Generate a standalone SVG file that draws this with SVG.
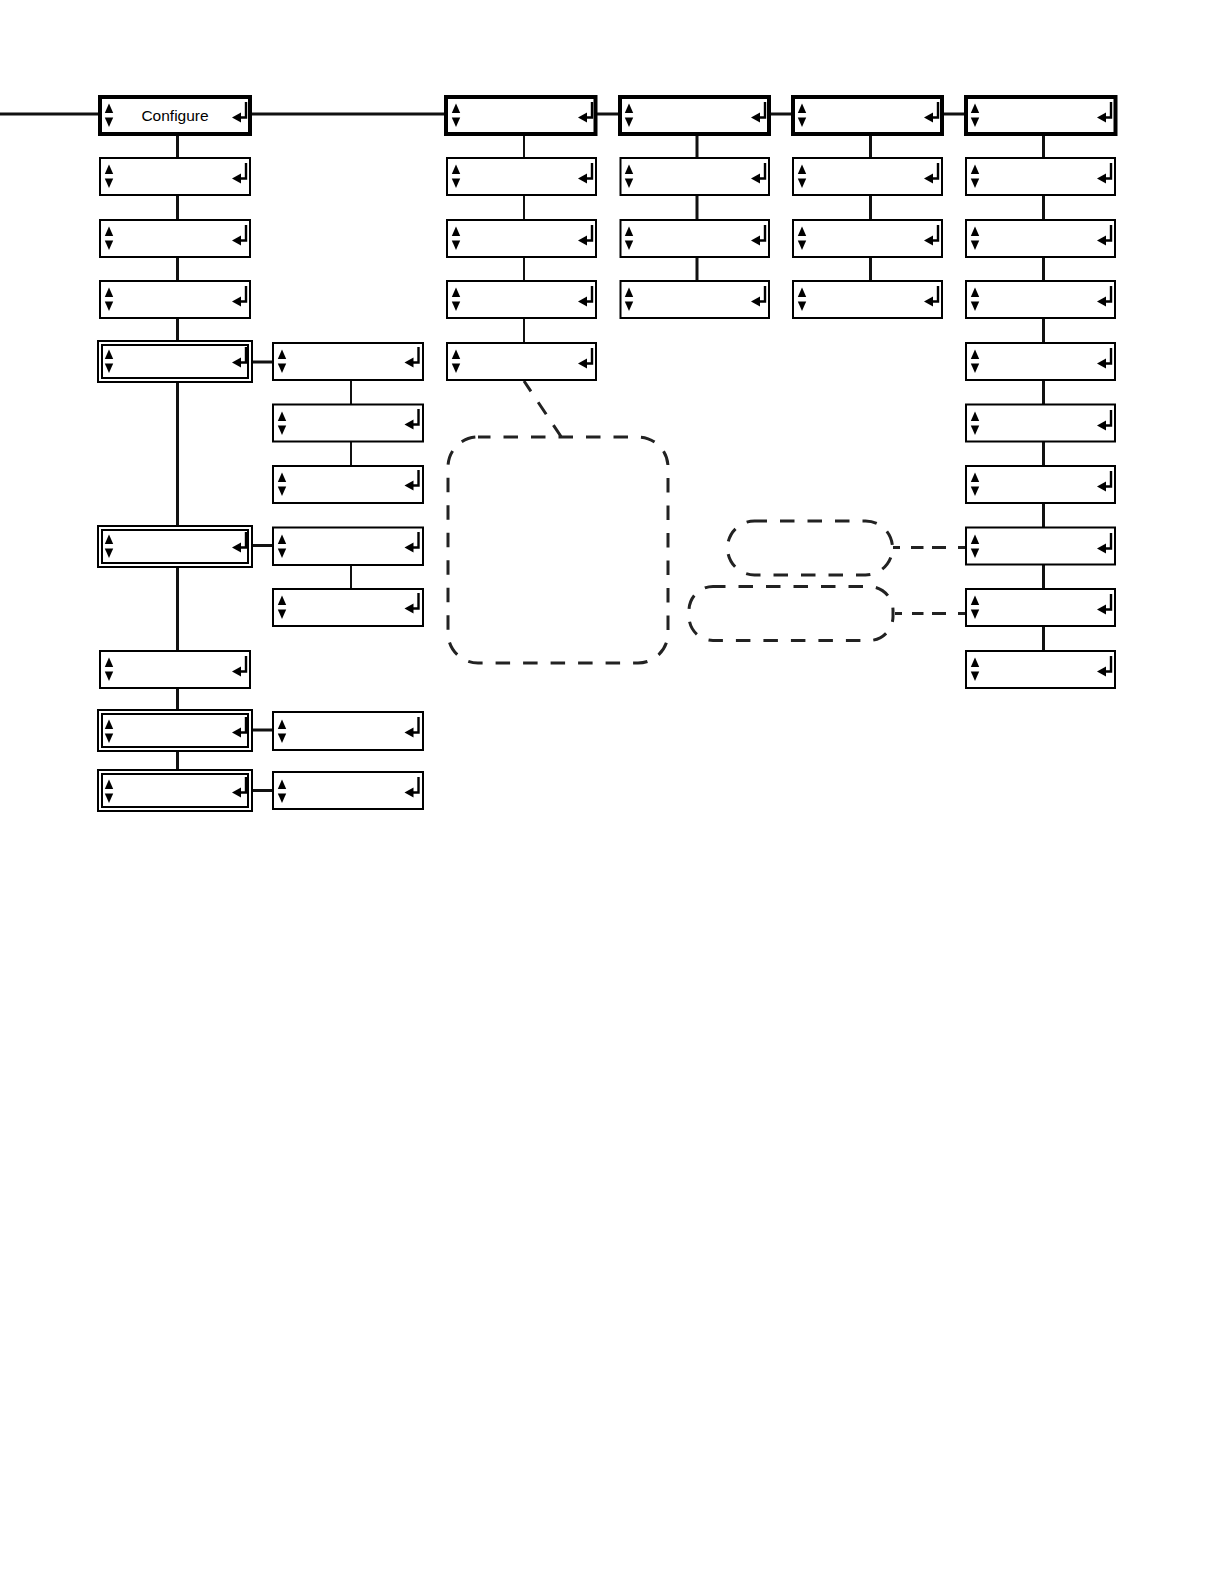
<svg xmlns="http://www.w3.org/2000/svg" width="1224" height="1584" viewBox="0 0 1224 1584">
<style>
.b{fill:#fff;stroke:#000;stroke-width:2}
.t{fill:#fff;stroke:#000;stroke-width:4}
.c{fill:none;stroke:#111;stroke-width:3}
.c2{fill:none;stroke:#111;stroke-width:2}
.s{fill:none;stroke:#222;stroke-width:3}
.d{fill:none;stroke:#222;stroke-width:3;stroke-dasharray:14.500 13;stroke-dashoffset:2}
text{font-family:"Liberation Sans",Arial,sans-serif;font-size:15.500px;fill:#000}
</style>
<defs>
<g id="ud">
<path d="M9 0.500L13.200 10H4.800Z" fill="#000"/>
<path d="M9 24L13.200 14.500H4.800Z" fill="#000"/>
</g>
<g id="en">
<path d="M146 -1V14.500H136" fill="none" stroke="#000" stroke-width="2.400"/>
<path d="M132 14.500L141 9.500V19.500Z" fill="#000"/>
</g>
</defs>
<g id="connectors">
<path class="c" d="M0 114H99M250 114H445M590 114H618M763 114H791M935 114H964"/>
<path class="c" d="M177.500 134V158M177.500 195V220M177.500 257V281M177.500 318V342M177.500 381V526M177.500 565V651M177.500 688V711M177.500 751V771"/>
<path class="c2" d="M524 134V158M524 195V220M524 257V281M524 318V343M351 380V404M351 442V466M351 564V589"/>
<path class="c" d="M697 134V158M697 195V220M697 257V281M870.500 134V158M870.500 195V220M870.500 257V281"/>
<path class="c" d="M1043.500 134V158M1043.500 195V220M1043.500 257V281M1043.500 318V342M1043.500 380V404M1043.500 442V466M1043.500 503V527M1043.500 565V589M1043.500 626V651"/>
<path class="c" d="M252 362H274M252 545.500H274M252 730H274M252 790.500H274"/>
<path class="d" d="M524 381L561 436.500"/>
<path class="s" d="M893 547.500H900M911 547.500H923.500M932 547.500H946M958 547.500H966"/>
<path class="s" d="M895 613.500H902M912 613.500H923.500M932 613.500H946M958 613.500H966"/>
</g>
<g id="n1"><rect class="t" x="100" y="97" width="150" height="37"/><use href="#ud" x="100" y="103"/><use href="#en" x="100" y="103"/><text x="175" y="121" text-anchor="middle">Configure</text></g>
<g id="n2"><rect class="b" x="100" y="158" width="150" height="37"/><use href="#ud" x="100" y="164"/><use href="#en" x="100" y="164"/></g>
<g id="n3"><rect class="b" x="100" y="220" width="150" height="37"/><use href="#ud" x="100" y="226"/><use href="#en" x="100" y="226"/></g>
<g id="n4"><rect class="b" x="100" y="281" width="150" height="37"/><use href="#ud" x="100" y="287"/><use href="#en" x="100" y="287"/></g>
<g id="n5"><rect class="b" x="98" y="341" width="154" height="41"/><rect class="b" x="102" y="345" width="146" height="33"/><use href="#ud" x="100" y="349"/><use href="#en" x="100" y="348"/></g>
<g id="n6"><rect class="b" x="98" y="526" width="154" height="41"/><rect class="b" x="102" y="530" width="146" height="33"/><use href="#ud" x="100" y="534"/><use href="#en" x="100" y="533"/></g>
<g id="n7"><rect class="b" x="100" y="651" width="150" height="37"/><use href="#ud" x="100" y="657"/><use href="#en" x="100" y="657"/></g>
<g id="n8"><rect class="b" x="98" y="710" width="154" height="41"/><rect class="b" x="102" y="714" width="146" height="33"/><use href="#ud" x="100" y="719"/><use href="#en" x="100" y="718"/></g>
<g id="n9"><rect class="b" x="98" y="770" width="154" height="41"/><rect class="b" x="102" y="774" width="146" height="33"/><use href="#ud" x="100" y="779"/><use href="#en" x="100" y="778"/></g>
<g id="n10"><rect class="b" x="273" y="343" width="150" height="37"/><use href="#ud" x="273" y="349"/><use href="#en" x="272.500" y="348"/></g>
<g id="n11"><rect class="b" x="273" y="404.500" width="150" height="37"/><use href="#ud" x="273" y="411"/><use href="#en" x="272.500" y="410"/></g>
<g id="n12"><rect class="b" x="273" y="466" width="150" height="37"/><use href="#ud" x="273" y="472"/><use href="#en" x="272.500" y="471"/></g>
<g id="n13"><rect class="b" x="273" y="527.500" width="150" height="37.500"/><use href="#ud" x="273" y="534"/><use href="#en" x="272.500" y="533"/></g>
<g id="n14"><rect class="b" x="273" y="589" width="150" height="37"/><use href="#ud" x="273" y="595"/><use href="#en" x="272.500" y="594"/></g>
<g id="n15"><rect class="b" x="273" y="712" width="150" height="38"/><use href="#ud" x="273" y="719"/><use href="#en" x="272.500" y="718"/></g>
<g id="n16"><rect class="b" x="273" y="772" width="150" height="37"/><use href="#ud" x="273" y="779"/><use href="#en" x="272.500" y="778"/></g>
<g id="n17"><rect class="t" x="446" y="97" width="149.500" height="37"/><use href="#ud" x="447" y="103"/><use href="#en" x="446" y="103"/></g>
<g id="n18"><rect class="b" x="447" y="158" width="149" height="37"/><use href="#ud" x="447" y="164"/><use href="#en" x="446" y="164"/></g>
<g id="n19"><rect class="b" x="447" y="220" width="149" height="37"/><use href="#ud" x="447" y="226"/><use href="#en" x="446" y="226"/></g>
<g id="n20"><rect class="b" x="447" y="281" width="149" height="37"/><use href="#ud" x="447" y="287"/><use href="#en" x="446" y="287"/></g>
<g id="n21"><rect class="b" x="447" y="343" width="149" height="37"/><use href="#ud" x="447" y="349"/><use href="#en" x="446" y="349"/></g>
<g id="n22"><rect class="t" x="620" y="97" width="149" height="37"/><use href="#ud" x="620" y="103"/><use href="#en" x="619" y="103"/></g>
<g id="n23"><rect class="b" x="620.500" y="158" width="148.500" height="37"/><use href="#ud" x="620" y="164"/><use href="#en" x="619" y="164"/></g>
<g id="n24"><rect class="b" x="620.500" y="220" width="148.500" height="37"/><use href="#ud" x="620" y="226"/><use href="#en" x="619" y="226"/></g>
<g id="n25"><rect class="b" x="620.500" y="281" width="148.500" height="37"/><use href="#ud" x="620" y="287"/><use href="#en" x="619" y="287"/></g>
<g id="n26"><rect class="t" x="793" y="97" width="149" height="37"/><use href="#ud" x="793" y="103"/><use href="#en" x="792" y="103"/></g>
<g id="n27"><rect class="b" x="793" y="158" width="149" height="37"/><use href="#ud" x="793" y="164"/><use href="#en" x="792" y="164"/></g>
<g id="n28"><rect class="b" x="793" y="220" width="149" height="37"/><use href="#ud" x="793" y="226"/><use href="#en" x="792" y="226"/></g>
<g id="n29"><rect class="b" x="793" y="281" width="149" height="37"/><use href="#ud" x="793" y="287"/><use href="#en" x="792" y="287"/></g>
<g id="n30"><rect class="t" x="966" y="97" width="149.500" height="37"/><use href="#ud" x="966" y="103"/><use href="#en" x="965" y="103"/></g>
<g id="n31"><rect class="b" x="966" y="158" width="149" height="37"/><use href="#ud" x="966" y="164"/><use href="#en" x="965" y="164"/></g>
<g id="n32"><rect class="b" x="966" y="220" width="149" height="37"/><use href="#ud" x="966" y="226"/><use href="#en" x="965" y="226"/></g>
<g id="n33"><rect class="b" x="966" y="281" width="149" height="37"/><use href="#ud" x="966" y="287"/><use href="#en" x="965" y="287"/></g>
<g id="n34"><rect class="b" x="966" y="343" width="149" height="37"/><use href="#ud" x="966" y="349"/><use href="#en" x="965" y="349"/></g>
<g id="n35"><rect class="b" x="966" y="404.500" width="149" height="37"/><use href="#ud" x="966" y="411"/><use href="#en" x="965" y="411"/></g>
<g id="n36"><rect class="b" x="966" y="466" width="149" height="37"/><use href="#ud" x="966" y="472"/><use href="#en" x="965" y="472"/></g>
<g id="n37"><rect class="b" x="966" y="527.500" width="149" height="37"/><use href="#ud" x="966" y="534"/><use href="#en" x="965" y="534"/></g>
<g id="n38"><rect class="b" x="966" y="589" width="149" height="37"/><use href="#ud" x="966" y="595"/><use href="#en" x="965" y="595"/></g>
<g id="n39"><rect class="b" x="966" y="651" width="149" height="37"/><use href="#ud" x="966" y="657"/><use href="#en" x="965" y="657"/></g>
<g id="callout1"><rect class="d" x="448" y="437" width="220" height="226" rx="30"/></g>
<g id="callout2"><rect class="d" x="727.500" y="521" width="165" height="54" rx="27"/></g>
<g id="callout3"><rect class="d" x="689" y="586.500" width="204" height="54" rx="24"/></g>
</svg>
